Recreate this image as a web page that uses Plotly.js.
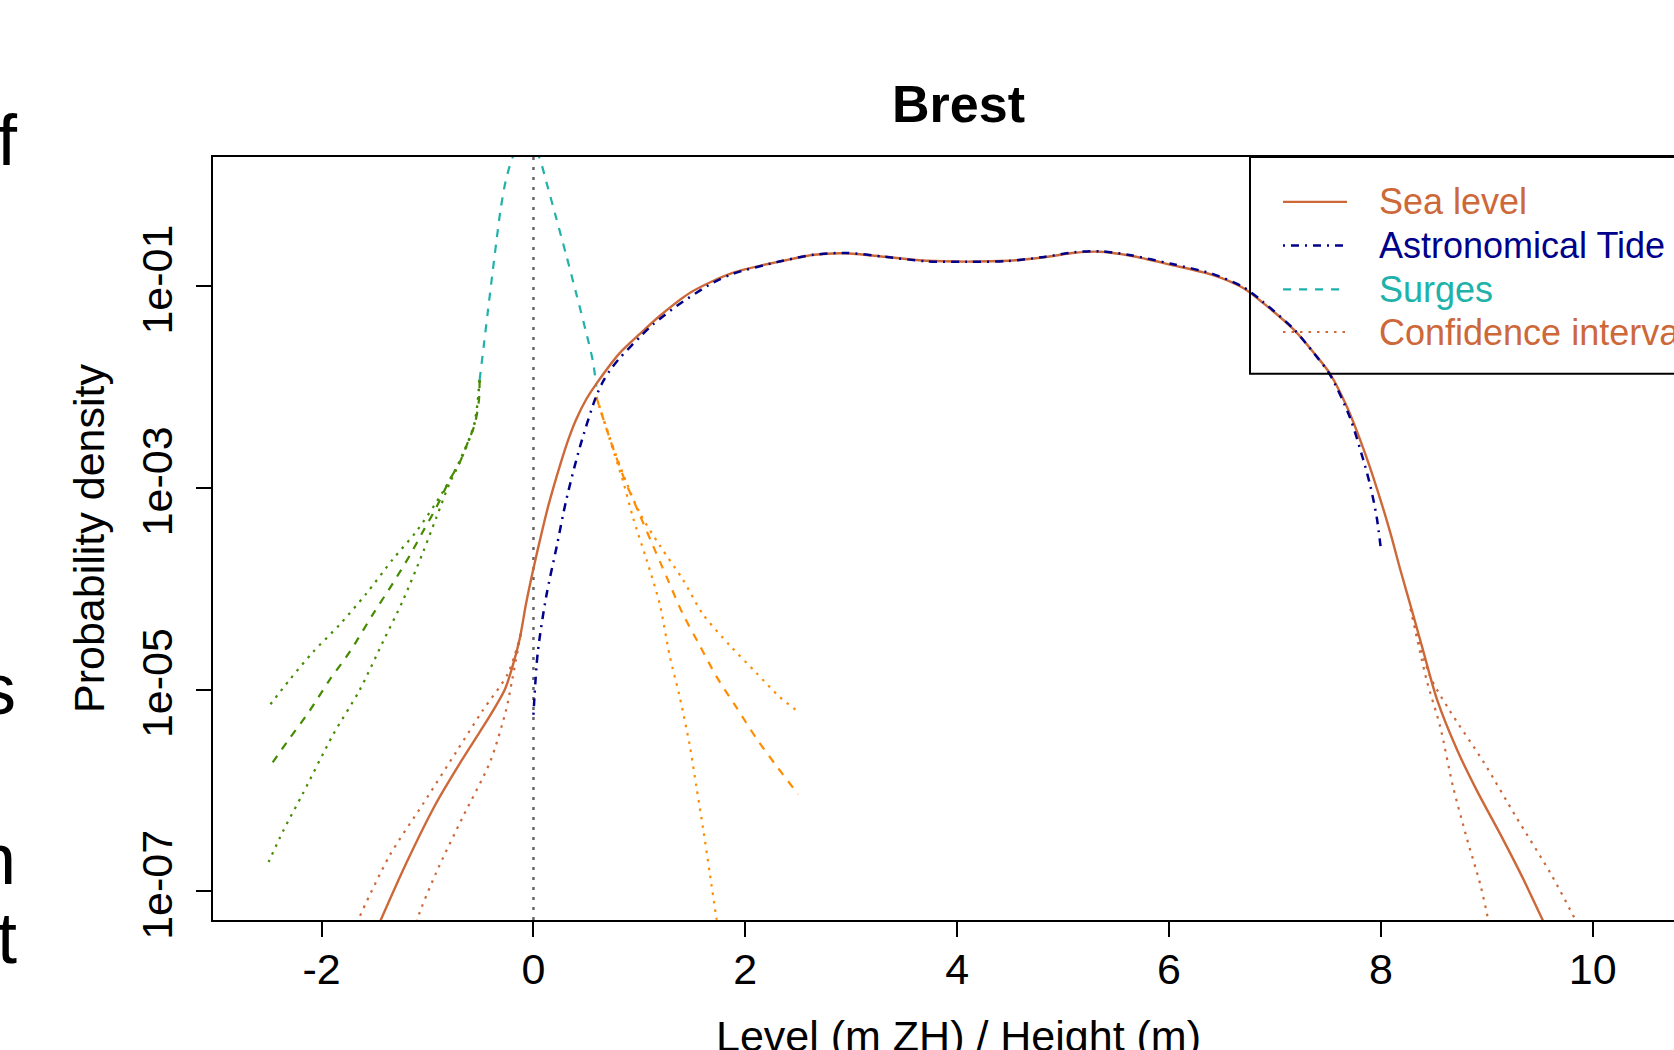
<!DOCTYPE html>
<html><head><meta charset="utf-8">
<script src="https://cdn.plot.ly/plotly-3.0.1.min.js"></script>
<style>html,body{margin:0;padding:0;overflow:hidden;background:#fff}#chart{width:1760px;height:1090px}</style>
</head><body><div id="chart"></div>
<script>
// ---- values (x in m, density as log10) ----
const seaLevelX = [-1.46,-1.20,-0.92,-0.67,-0.50,-0.41,-0.27,-0.20,-0.13,-0.07,0.00,0.07,0.14,0.25,0.33,0.40,0.50,0.60,0.81,1.01,1.20,1.49,1.88,2.31,2.65,2.94,3.32,3.71,4.09,4.48,4.82,5.11,5.35,5.64,6.02,6.41,6.70,6.89,7.18,7.37,7.52,7.68,7.83,7.96,8.09,8.18,8.31,8.40,8.53,8.72,8.90,9.16,9.34,9.52,9.55];
const seaLevelLog = [-7.33,-6.72,-6.13,-5.69,-5.41,-5.26,-5.00,-4.78,-4.50,-4.15,-3.80,-3.48,-3.18,-2.78,-2.52,-2.33,-2.12,-1.96,-1.67,-1.47,-1.29,-1.06,-0.87,-0.76,-0.69,-0.675,-0.71,-0.75,-0.758,-0.75,-0.715,-0.67,-0.66,-0.70,-0.79,-0.89,-1.02,-1.17,-1.435,-1.666,-1.87,-2.20,-2.60,-3.00,-3.45,-3.80,-4.28,-4.62,-5.10,-5.60,-5.99,-6.50,-6.87,-7.27,-7.33];

const seaCiLeftUpX = [-0.12,-0.24,-0.48,-0.73,-1.04,-1.36,-1.64,-1.67];
const seaCiLeftUpLog = [-4.45,-4.84,-5.21,-5.62,-6.13,-6.65,-7.25,-7.33];
const seaCiLeftLowX = [-0.12,-0.20,-0.26,-0.41,-0.67,-0.92,-1.09,-1.10];
const seaCiLeftLowLog = [-4.45,-4.90,-5.21,-5.72,-6.27,-6.82,-7.26,-7.33];
const seaCiRightUpX = [8.28,8.46,8.65,8.97,9.28,9.60,9.83,9.86];
const seaCiRightUpLog = [-4.20,-4.86,-5.21,-5.72,-6.27,-6.82,-7.27,-7.33];
const seaCiRightLowX = [8.28,8.43,8.56,8.68,8.81,8.94,9.01,9.02];
const seaCiRightLowLog = [-4.20,-4.90,-5.37,-5.96,-6.47,-6.94,-7.27,-7.33];

const tideX = [0.00,0.04,0.12,0.22,0.31,0.44,0.59,0.66,0.72,0.81,1.01,1.13,1.35,1.69,1.88,2.31,2.65,2.94,3.32,3.71,4.09,4.48,4.82,5.11,5.35,5.64,6.02,6.41,6.70,6.89,7.18,7.37,7.52,7.71,7.83,7.90,7.96,8.00];
const tideLog = [-5.25,-4.64,-4.08,-3.58,-3.12,-2.59,-2.10,-1.94,-1.84,-1.72,-1.50,-1.38,-1.20,-0.97,-0.88,-0.76,-0.69,-0.672,-0.71,-0.755,-0.76,-0.752,-0.712,-0.665,-0.655,-0.695,-0.78,-0.88,-1.01,-1.16,-1.43,-1.67,-1.88,-2.31,-2.71,-2.98,-3.29,-3.61];

const surgeX = [-0.508,-0.47,-0.43,-0.39,-0.35,-0.31,-0.26,-0.187,-0.07,0.052,0.122,0.216,0.311,0.405,0.500,0.562,0.594];
const surgeLog = [-1.931,-1.60,-1.25,-0.90,-0.56,-0.24,0.05,0.30,0.50,0.282,0.03,-0.33,-0.70,-1.08,-1.47,-1.75,-1.997];

const negTailX = [-0.508,-0.515,-0.555,-0.618,-0.697,-0.791,-0.917,-1.043,-1.169,-1.327,-1.516,-1.736,-1.924,-2.113,-2.302,-2.50];
const negTailLog = [-1.931,-2.136,-2.375,-2.546,-2.751,-2.922,-3.195,-3.434,-3.674,-3.947,-4.255,-4.630,-4.904,-5.211,-5.485,-5.78];
const negCiUpX = [-0.508,-0.56,-0.70,-0.855,-1.106,-1.327,-1.578,-1.830,-2.082,-2.302,-2.50];
const negCiUpLog = [-1.931,-2.37,-2.74,-3.04,-3.434,-3.708,-4.050,-4.357,-4.630,-4.904,-5.17];
const negCiLowX = [-0.508,-0.56,-0.70,-0.791,-0.917,-1.043,-1.232,-1.421,-1.641,-1.893,-2.177,-2.365,-2.50];
const negCiLowLog = [-1.931,-2.38,-2.76,-2.955,-3.297,-3.640,-4.118,-4.528,-5.006,-5.451,-6.032,-6.407,-6.71];

const posTailX = [0.594,0.720,0.861,0.987,1.113,1.255,1.412,1.569,1.727,1.916,2.105,2.294,2.50];
const posTailLog = [-2.10,-2.511,-2.922,-3.229,-3.537,-3.879,-4.255,-4.562,-4.870,-5.177,-5.485,-5.758,-6.04];
const posCiUpX = [0.594,0.72,0.86,1.003,1.192,1.412,1.601,1.853,2.105,2.325,2.50];
const posCiUpLog = [-2.10,-2.50,-2.90,-3.25,-3.571,-3.913,-4.255,-4.562,-4.836,-5.075,-5.22];
const posCiLowX = [0.594,0.72,0.85,0.940,1.066,1.192,1.286,1.381,1.475,1.538,1.601,1.664,1.727,1.74];
const posCiLowLog = [-2.10,-2.52,-2.95,-3.297,-3.708,-4.152,-4.665,-5.075,-5.553,-5.963,-6.374,-6.818,-7.262,-7.33];

const refLevel = 0;
const xTicks = [-2,0,2,4,6,8,10];
const yTickVals = [1e-1,1e-3,1e-5,1e-7];
const yTickText = ["1e-01","1e-03","1e-05","1e-07"];
const legendNames = ["Sea level","Astronomical Tide","Surges","Confidence interval"];
const pageLetters = ["f","s","n","t"];

// ---- styles ----
const C_SEA = "#CD6839", C_TIDE = "#00008B", C_SURGE = "#20B2AA", C_NEG = "#458B00", C_POS = "#FF8C00";
const DOT = "2.5px,6px", DASH = "8px,8px", DASHDOT = "2px,6px,8px,6px";
const FONT = "Liberation Sans, Arial, Helvetica, sans-serif";

// page is 1050 tall; the figure runs past the bottom edge so the x title is cut like the reference
const W = 1760, H = 1090, ML = 213, MR = 56, MT = 157, MB = 170;
const PW = W - ML - MR, PH = H - MT - MB;
const px2x = p => (p - ML) / PW;
const px2y = p => (H - MB - p) / PH;

const pow = a => a.map(v => Math.pow(10, v));
function tr(x, ly, color, dash, width) {
  return {x: x, y: pow(ly), type: "scatter", mode: "lines", showlegend: false, hoverinfo: "skip",
    line: {color: color, dash: dash, width: width || 2, shape: "spline", smoothing: 0.8}};
}

const data = [
  tr(seaCiLeftUpX, seaCiLeftUpLog, C_SEA, DOT, 2.2),
  tr(seaCiLeftLowX, seaCiLeftLowLog, C_SEA, DOT, 2.2),
  tr(seaCiRightUpX, seaCiRightUpLog, C_SEA, DOT, 2.2),
  tr(seaCiRightLowX, seaCiRightLowLog, C_SEA, DOT, 2.2),
  tr(negCiUpX, negCiUpLog, C_NEG, DOT, 2.2),
  tr(negCiLowX, negCiLowLog, C_NEG, DOT, 2.2),
  tr(negTailX, negTailLog, C_NEG, DASH, 2.2),
  tr(posCiUpX, posCiUpLog, C_POS, DOT, 2.2),
  tr(posCiLowX, posCiLowLog, C_POS, DOT, 2.2),
  tr(posTailX, posTailLog, C_POS, DASH, 2.2),
  tr(surgeX, surgeLog, C_SURGE, DASH, 2.2),
  tr(seaLevelX, seaLevelLog, C_SEA, "solid", 2.4),
  tr(tideX, tideLog, C_TIDE, DASHDOT, 2.5)
];

// legend (drawn as shapes + text)
const legRows = [201.8, 245.5, 289.3, 332];
const legStyles = [[C_SEA,"solid"],[C_TIDE,DASHDOT],[C_SURGE,DASH],[C_SEA,DOT]];
const legTextColors = [C_SEA, C_TIDE, C_SURGE, C_SEA];

const shapes = [
  {type:"line", xref:"x", yref:"paper", x0:refLevel, x1:refLevel, y0:0, y1:1, layer:"below",
   line:{color:"#666666", width:2.5, dash:"3px,7px"}},
  {type:"rect", xref:"paper", yref:"paper", x0:px2x(1250), x1:px2x(1800), y0:px2y(373.7), y1:px2y(157),
   line:{color:"#000", width:2}, fillcolor:"rgba(255,255,255,0)"}
];
legRows.forEach((r,i)=>shapes.push({type:"line", xref:"paper", yref:"paper",
  x0:px2x(1283), x1:px2x(1347), y0:px2y(r), y1:px2y(r),
  line:{color:legStyles[i][0], dash:legStyles[i][1], width: i===1?2.5:2.2}}));

const annotations = legendNames.map((t,i)=>({xref:"paper", yref:"paper", x:px2x(1377), y:px2y(legRows[i]),
  xanchor:"left", yanchor:"middle", showarrow:false, text:t, font:{family:FONT, size:36, color:legTextColors[i]}}));
const letterPos = [[20,140],[18,689],[18,859],[19,938]];
pageLetters.forEach((t,i)=>annotations.push({xref:"paper", yref:"paper", x:px2x(letterPos[i][0]), y:px2y(letterPos[i][1]),
  xanchor:"right", yanchor:"middle", showarrow:false, text:t, font:{family:FONT, size:72, color:"#000"}}));

const axisCommon = {showline:true, mirror:true, linecolor:"#000", linewidth:2, ticks:"outside", ticklen:15,
  tickwidth:2, tickcolor:"#000", showgrid:false, zeroline:false, tickfont:{family:FONT, size:43, color:"#000"}};

const layout = {
  width: W, height: H, margin:{l:ML, r:MR, t:MT, b:MB, autoexpand:false},
  paper_bgcolor:"#fff", plot_bgcolor:"#fff", showlegend:false,
  font:{family:FONT, color:"#000"},
  title:{text:"<b>Brest</b>", font:{family:FONT, size:52, color:"#000"}, x:0.5, xref:"paper", y:1-104/H, yref:"container", yanchor:"middle"},
  xaxis: Object.assign({}, axisCommon, {range:[-3.025, 11.05], tickvals:xTicks, ticktext:xTicks.map(String), ticklabelstandoff:-5,
    title:{text:"Level (m ZH) / Height (m)", font:{family:FONT, size:43, color:"#000"}, standoff:29}}),
  yaxis: Object.assign({}, axisCommon, {type:"log", range:[-7.285, 0.279], tickvals:yTickVals, ticktext:yTickText, tickangle:-90, ticklabelstandoff:7,
    title:{text:"Probability density", font:{family:FONT, size:43, color:"#000"}, standoff:15}}),
  shapes: shapes, annotations: annotations
};

Plotly.newPlot("chart", data, layout, {staticPlot:true, displayModeBar:false});
</script></body></html>
